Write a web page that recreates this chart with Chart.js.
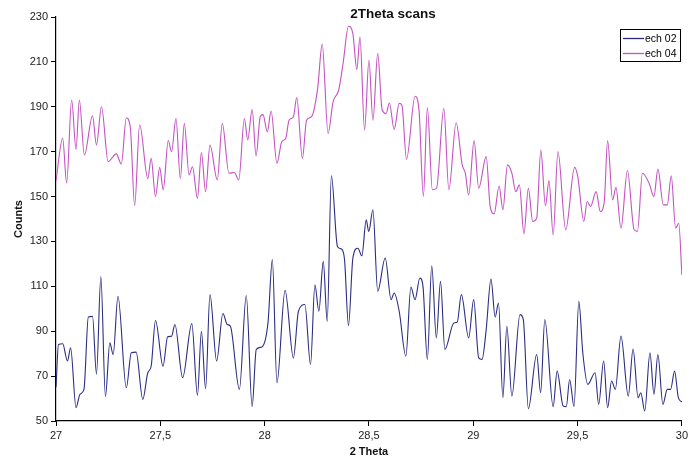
<!DOCTYPE html>
<html>
<head>
<meta charset="utf-8">
<script src="https://cdn.jsdelivr.net/npm/chart.js@4"></script>
<style>
  html, body { margin: 0; padding: 0; background: #fff; }
  #wrap { width: 691px; height: 461px; }
</style>
</head>
<body>
<div id="wrap"><canvas id="scanChart" width="691" height="461"></canvas></div>
<script>
// 2 Theta positions and counts (peaks and valleys)
const theta02 = [27.000, 27.012, 27.032, 27.055, 27.070, 27.096, 27.115, 27.134, 27.155, 27.175,
    27.194, 27.215, 27.237, 27.258, 27.274, 27.297, 27.337, 27.361, 27.384, 27.416,
    27.440, 27.456, 27.477, 27.513, 27.535, 27.554, 27.570, 27.607, 27.651, 27.678,
    27.697, 27.717, 27.738, 27.770, 27.800, 27.821, 27.836, 27.879, 27.912, 27.940,
    27.960, 27.987, 28.016, 28.037, 28.059, 28.098, 28.138, 28.162, 28.193, 28.220,
    28.241, 28.260, 28.281, 28.300, 28.320, 28.349, 28.368, 28.383, 28.402, 28.423,
    28.447, 28.466, 28.487, 28.499, 28.519, 28.542, 28.578, 28.606, 28.621, 28.645,
    28.677, 28.701, 28.721, 28.744, 28.759, 28.780, 28.801, 28.823, 28.843, 28.864,
    28.907, 28.923, 28.943, 28.978, 29.002, 29.026, 29.042, 29.062, 29.085, 29.105,
    29.121, 29.142, 29.161, 29.185, 29.224, 29.240, 29.264, 29.304, 29.323, 29.343,
    29.383, 29.402, 29.431, 29.446, 29.462, 29.483, 29.506, 29.525, 29.549, 29.584,
    29.601, 29.625, 29.644, 29.663, 29.681, 29.708, 29.743, 29.766, 29.790, 29.803,
    29.822, 29.847, 29.866, 29.885, 29.909, 29.930, 29.946, 29.965, 29.983, 30.000];
const counts02 = [65, 84.1, 84.4, 76.7, 82.6, 55.9, 61.9, 64.1, 96.3, 96.6,
    70.9, 114.4, 60.8, 84.8, 79.6, 105.6, 64.8, 80.4, 80.7, 59.6,
    71.5, 74.4, 94.8, 74.4, 87.5, 87.8, 93, 69.3, 93.4, 61.4,
    90, 64.4, 106.3, 76.7, 97.9, 93, 92.2, 64.1, 105.9, 56.4,
    81.9, 83, 93.7, 121.9, 67, 108.2, 78.1, 98.9, 101.9, 75.2,
    110.7, 98.9, 121.1, 94.4, 159.3, 127.8, 126.6, 121.9, 92.5, 122.6,
    127, 123.6, 139.6, 134.4, 144.1, 107.8, 122.6, 104.1, 107, 98.9,
    78.9, 109.7, 104.1, 113.7, 110, 77.4, 119.2, 87, 112.2, 81.9,
    93.7, 94, 106.3, 87, 104.1, 78.1, 77.4, 90.7, 113.3, 96.3,
    102.6, 60.4, 92.2, 61.1, 97.4, 95.2, 55.5, 79.6, 62.6, 95.2,
    56.4, 72.2, 56.7, 56.4, 68.5, 56.4, 103.3, 80.4, 66.3, 71.5,
    57.4, 76.7, 55.9, 67.8, 64.1, 87.8, 61.1, 82.1, 60.4, 62.6,
    54.5, 80.4, 61.9, 79.6, 57.4, 64.1, 64.1, 72.2, 60.4, 58.5];

const theta04 = [27.000, 27.032, 27.051, 27.075, 27.096, 27.112, 27.136, 27.175, 27.194, 27.218,
    27.250, 27.289, 27.313, 27.337, 27.356, 27.377, 27.401, 27.440, 27.456, 27.477,
    27.497, 27.514, 27.538, 27.554, 27.575, 27.596, 27.615, 27.638, 27.654, 27.678,
    27.697, 27.717, 27.738, 27.773, 27.797, 27.829, 27.855, 27.876, 27.903, 27.919,
    27.940, 27.959, 27.979, 27.992, 28.013, 28.031, 28.059, 28.082, 28.101, 28.117,
    28.138, 28.154, 28.181, 28.201, 28.225, 28.254, 28.276, 28.304, 28.328, 28.355,
    28.376, 28.402, 28.423, 28.442, 28.457, 28.479, 28.500, 28.519, 28.542, 28.563,
    28.582, 28.598, 28.621, 28.645, 28.658, 28.680, 28.721, 28.740, 28.761, 28.780,
    28.804, 28.824, 28.859, 28.883, 28.918, 28.947, 28.962, 28.978, 29.004, 29.026,
    29.062, 29.081, 29.100, 29.124, 29.142, 29.164, 29.185, 29.204, 29.221, 29.243,
    29.264, 29.285, 29.304, 29.324, 29.346, 29.363, 29.383, 29.406, 29.443, 29.486,
    29.501, 29.530, 29.546, 29.562, 29.589, 29.609, 29.628, 29.644, 29.668, 29.684,
    29.708, 29.739, 29.771, 29.787, 29.811, 29.843, 29.866, 29.885, 29.911, 29.930,
    29.949, 29.970, 29.985, 30.000];
const counts04 = [157, 176, 156, 193, 171, 193, 168.5, 186, 173, 190,
    165.6, 169, 164.5, 185, 181, 146, 182, 158, 167, 150,
    163, 153, 175, 170, 184.8, 158, 182.6, 159.6, 163.3, 149.3,
    169.6, 152.2, 173, 157.4, 182.6, 160.4, 160.7, 157.4, 184.8, 175.2,
    188.8, 168.1, 185.6, 186.5, 178.9, 188.1, 164.8, 174.4, 175.9, 184,
    185.6, 194.1, 167, 184, 185.6, 198.1, 217.9, 178.1, 192.2, 197.4,
    209.3, 225.9, 222.6, 206.6, 221.1, 179.6, 210.7, 184, 213.7, 188.8,
    187, 191.7, 179.9, 191.5, 190.7, 166.6, 194.7, 188.5, 150, 189.7,
    153, 153.7, 189.3, 153, 182.9, 164.1, 160.4, 150.7, 174.9, 153.7,
    167.8, 145.6, 142.3, 154.7, 144.1, 164.1, 160.4, 152.2, 155.2, 133.4,
    153.7, 138.9, 140.4, 170.7, 145.9, 157.1, 133, 170, 135.2, 163,
    158.9, 138.9, 147.8, 145.6, 152.2, 143.3, 147.8, 174.9, 148.5, 154.1,
    135.9, 161.6, 135.2, 134.5, 160.4, 155.9, 150, 162.2, 146.3, 146.3,
    159.2, 135.9, 138.1, 115];

const yTicks = [50, 70, 90, 110, 130, 150, 170, 190, 210, 230];

const seriesNames = ['ech 02', 'ech 04'];
const seriesColors = ['#2c2c82', '#c452c2'];

function toPoints(xs, ys) {
    return xs.map((x, i) => ({ x: x, y: ys[i] }));
}

const fontFamily = '"Liberation Sans", Arial, sans-serif';

// title sits over the top edge of the plot, like in Excel
const titlePlugin = {
    id: 'excelTitle',
    afterDraw(chart) {
        const ctx = chart.ctx;
        ctx.save();
        ctx.font = 'bold 13.5px ' + fontFamily;
        ctx.fillStyle = '#111';
        ctx.textAlign = 'center';
        ctx.textBaseline = 'middle';
        ctx.fillText('2Theta scans', 393, 14);
        ctx.restore();
    }
};

// boxed legend in the top right corner
const boxLegendPlugin = {
    id: 'boxLegend',
    afterDraw(chart) {
        const ctx = chart.ctx;
        ctx.save();
        ctx.fillStyle = '#fff';
        ctx.fillRect(620.5, 29.5, 60, 32);
        ctx.strokeStyle = '#000';
        ctx.lineWidth = 1;
        ctx.strokeRect(620.5, 29.5, 60, 32);
        ctx.font = '10.5px ' + fontFamily;
        ctx.textBaseline = 'middle';
        ctx.textAlign = 'left';
        chart.data.datasets.forEach((ds, i) => {
            const y = 38.5 + i * 15;
            ctx.strokeStyle = ds.borderColor;
            ctx.lineWidth = 1.3;
            ctx.beginPath();
            ctx.moveTo(623, y);
            ctx.lineTo(644, y);
            ctx.stroke();
            ctx.fillStyle = '#000';
            ctx.fillText(ds.label, 645, y + 0.5);
        });
        ctx.restore();
    }
};

const ctx = document.getElementById('scanChart');

new Chart(ctx, {
    type: 'line',
    data: {
        datasets: [
            {
                label: seriesNames[0],
                data: toPoints(theta02, counts02),
                borderColor: seriesColors[0],
                borderWidth: 1.1,
                pointRadius: 0,
                cubicInterpolationMode: 'monotone',
                fill: false
            },
            {
                label: seriesNames[1],
                data: toPoints(theta04, counts04),
                borderColor: seriesColors[1],
                borderWidth: 1.1,
                pointRadius: 0,
                cubicInterpolationMode: 'monotone',
                fill: false
            }
        ]
    },
    options: {
        responsive: false,
        animation: false,
        events: [],
        layout: {
            padding: { left: 0, right: 2.5, top: 17, bottom: 0 }
        },
        scales: {
            x: {
                type: 'linear',
                min: 27,
                max: 30,
                afterFit(scale) { scale.height = 40; },
                afterBuildTicks(scale) {
                    scale.ticks = [27, 27.5, 28, 28.5, 29, 29.5, 30].map(v => ({ value: v }));
                },
                border: { color: '#000', width: 1.2 },
                grid: {
                    drawOnChartArea: false,
                    drawTicks: true,
                    tickLength: 5,
                    color: '#000'
                },
                ticks: {
                    color: '#222',
                    font: { family: fontFamily, size: 11 },
                    padding: 3,
                    maxRotation: 0,
                    callback: v => String(v).replace('.', ',')
                },
                title: {
                    display: true,
                    text: '2 Theta',
                    color: '#111',
                    font: { family: fontFamily, size: 11, weight: 'bold' },
                    padding: { top: 0, bottom: 2 }
                }
            },
            y: {
                type: 'linear',
                min: 50,
                max: 230,
                afterFit(scale) { scale.width = 56; },
                afterBuildTicks(scale) {
                    scale.ticks = yTicks.map(v => ({ value: v }));
                },
                border: { color: '#000', width: 1.2 },
                grid: {
                    drawOnChartArea: false,
                    drawTicks: true,
                    tickLength: 5,
                    color: '#000'
                },
                ticks: {
                    color: '#222',
                    font: { family: fontFamily, size: 11 },
                    padding: 3
                },
                title: {
                    display: true,
                    text: 'Counts',
                    color: '#111',
                    font: { family: fontFamily, size: 11, weight: 'bold' },
                    padding: { top: 12, bottom: 0 }
                }
            }
        },
        plugins: {
            legend: { display: false },
            title: { display: false },
            tooltip: { enabled: false }
        }
    },
    plugins: [titlePlugin, boxLegendPlugin]
});
</script>
</body>
</html>
